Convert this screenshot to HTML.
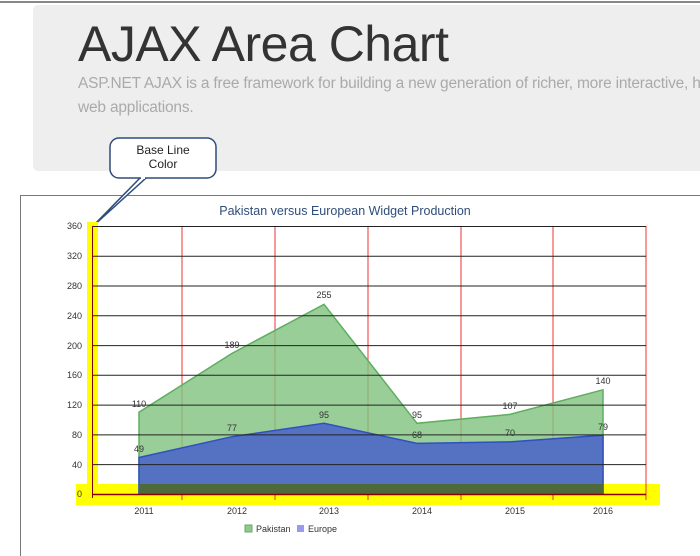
<!DOCTYPE html>
<html><head><style>
body{margin:0;width:700px;height:556px;background:#fff;overflow:hidden;position:relative;font-family:"Liberation Sans",sans-serif}
</style></head><body>
<div style="position:absolute;left:0;top:1px;width:700px;height:2px;background:#888"></div>
<div style="position:absolute;left:33px;top:5px;width:667px;height:166px;background:#eeeeee;border-radius:5px 0 0 5px;overflow:hidden">
<div style="position:absolute;left:45px;top:10px;font-size:50px;color:#333;letter-spacing:-0.5px;white-space:nowrap">AJAX Area Chart</div>
<div style="position:absolute;left:45px;top:67px;font-size:15.5px;line-height:24px;color:#aaa;white-space:nowrap;letter-spacing:-0.2px">ASP.NET AJAX is a free framework for building a new generation of richer, more interactive, highly personalized<br>web applications.</div>
</div>
<svg width="700" height="556" style="position:absolute;left:0;top:0" font-family="Liberation Sans, sans-serif">
<line x1="20" y1="195.5" x2="700" y2="195.5" stroke="#777"/>
<line x1="20.5" y1="195" x2="20.5" y2="556" stroke="#777"/>
<polygon points="91,228 140,178 146,178" fill="#fff" stroke="#2e4d7b" stroke-width="1.5"/>
<rect x="110" y="138" width="106" height="40" rx="9" fill="#fff" stroke="#2e4d7b" stroke-width="1.5"/>
<line x1="141" y1="178" x2="145" y2="178" stroke="#fff" stroke-width="2"/>
<text x="163" y="154" font-size="12" text-anchor="middle" fill="#222">Base Line</text>
<text x="163" y="168" font-size="12" text-anchor="middle" fill="#222">Color</text>
<text x="345" y="215" font-size="12.5" text-anchor="middle" fill="#2e4d7b">Pakistan versus European Widget Production</text>
<rect x="87" y="222" width="11" height="270" fill="#ffff00"/>
<rect x="76" y="484" width="584" height="21" fill="#ffff00"/>
<g stroke="#e33" stroke-width="1">
<line x1="182" y1="226" x2="182" y2="500"/><line x1="275" y1="226" x2="275" y2="500"/><line x1="368" y1="226" x2="368" y2="500"/><line x1="461" y1="226" x2="461" y2="500"/><line x1="553" y1="226" x2="553" y2="500"/><line x1="646" y1="226" x2="646" y2="500"/>
</g>
<polygon points="139,494 139,412.2 232,353.4 324,304.3 417,423.3 510,414.4 603,389.8 603,494" fill="#7fc27f" fill-opacity="0.8" stroke="#5fae5f" stroke-width="1.5"/>
<polygon points="139,494 139,457.5 232,436.7 324,423.3 417,443.4 510,441.9 603,435.2 603,494" fill="#5572c2" stroke="#3050c0" stroke-width="1.5"/>
<rect x="139" y="484" width="464" height="10" fill="#4e6a3a"/>
<g stroke="#222" stroke-width="1">
<line x1="92" y1="226.5" x2="646" y2="226.5"/><line x1="92" y1="256.3" x2="646" y2="256.3"/><line x1="92" y1="286" x2="646" y2="286"/><line x1="92" y1="315.8" x2="646" y2="315.8"/><line x1="92" y1="345.6" x2="646" y2="345.6"/><line x1="92" y1="375.3" x2="646" y2="375.3"/><line x1="92" y1="405.1" x2="646" y2="405.1"/><line x1="92" y1="434.9" x2="646" y2="434.9"/><line x1="92" y1="464.6" x2="646" y2="464.6"/>
</g>
<line x1="92" y1="494.5" x2="646" y2="494.5" stroke="#800" stroke-width="1.5"/>
<line x1="92.5" y1="226" x2="92.5" y2="498" stroke="#800"/>
<g font-size="9" fill="#333" text-anchor="end">
<text x="82" y="229">360</text><text x="82" y="259">320</text><text x="82" y="289">280</text><text x="82" y="319">240</text><text x="82" y="349">200</text><text x="82" y="378">160</text><text x="82" y="408">120</text><text x="82" y="438">80</text><text x="82" y="468">40</text><text x="82" y="497">0</text>
</g>
<g font-size="9" fill="#333" text-anchor="middle">
<text x="144" y="514">2011</text><text x="237" y="514">2012</text><text x="329" y="514">2013</text><text x="422" y="514">2014</text><text x="515" y="514">2015</text><text x="603" y="514">2016</text>
<text x="139" y="407">110</text><text x="232" y="348">189</text><text x="324" y="298">255</text><text x="417" y="418">95</text><text x="510" y="409">107</text><text x="603" y="384">140</text>
<text x="139" y="452">49</text><text x="232" y="431">77</text><text x="324" y="418">95</text><text x="417" y="438">68</text><text x="510" y="436">70</text><text x="603" y="430">79</text>
</g>
<rect x="245" y="525" width="7" height="7" fill="#8fc98f" stroke="#6a6"/>
<text x="256" y="532" font-size="9" fill="#333">Pakistan</text>
<rect x="297" y="525" width="7" height="7" fill="#9999ee"/>
<text x="308" y="532" font-size="9" fill="#333">Europe</text>
</svg>
</body></html>
